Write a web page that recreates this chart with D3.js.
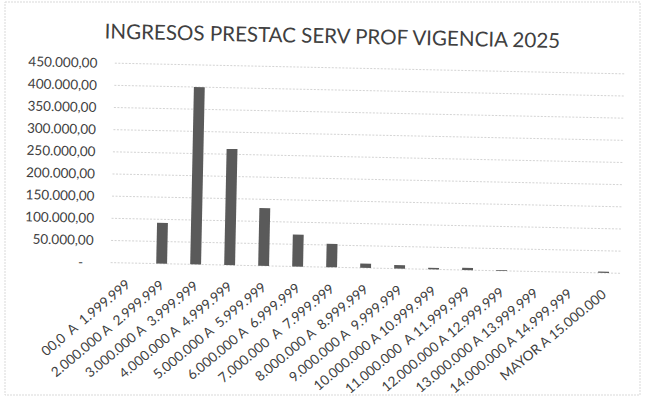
<!DOCTYPE html>
<html>
<head>
<meta charset="utf-8">
<script src="https://cdn.jsdelivr.net/npm/d3@7"></script>
<style>
  body { margin: 0; background: #fff; }
  svg { display: block; }
</style>
</head>
<body>
<svg width="645" height="403"></svg>
<script>
var width = 645;
var height = 403;

// data
var categories = [
    '00,0  A  1.999.999', '2.000.000 A  2.999.999', '3.000.000 A  3.999.999',
    '4.000.000 A  4.999.999', '5.000.000 A  5.999.999', '6.000.000 A  6.999.999',
    '7.000.000  A  7.999.999', '8.000.000 A  8.999.999', '9.000.000 A  9.999.999',
    '10.000.000 A 10.999.999', '11.000.000  A 11.999.999', '12.000.000 A 12.999.999',
    '13.000.000 A 13.999.999', '14.000.000 A 14.999.999', 'MAYOR A 15.000.000'
];
var values = [0, 92000, 400000, 262000, 130000, 72000, 53000, 10000, 8000, 3500, 5000, 1500, 0, 0, 3000];
var yTicks = [0, 50000, 100000, 150000, 200000, 250000, 300000, 350000, 400000, 450000];
var title = 'INGRESOS PRESTAC SERV PROF VIGENCIA 2025';

var plotLeft = 112, plotRight = 622, plotTop = 67.5, plotBottom = 267;

var svg = d3.select('svg');

// outer frame of the chart
svg.append('rect')
    .attr('x', 5).attr('y', 2)
    .attr('width', 635).attr('height', 393)
    .attr('fill', '#fff')
    .attr('stroke', '#d9d9d9')
    .attr('stroke-dasharray', '2,1');

// the photo is slightly tilted
var g = svg.append('g')
    .attr('transform', 'rotate(1.2,320,200)');

var x = d3.scaleBand()
    .domain(categories)
    .range([plotLeft, plotRight]);

var y = d3.scaleLinear()
    .domain([0, 450000])
    .range([plotBottom, plotTop]);

var fmt = function(v) {
    if (v === 0) return '-';
    return d3.format(',.2f')(v).replace(/,/g, '#').replace(/\./g, ',').replace(/#/g, '.');
};

// gridlines
g.append('g')
    .selectAll('line')
    .data(yTicks).enter().append('line')
    .attr('x1', plotLeft).attr('x2', plotRight)
    .attr('y1', function(d) { return y(d); })
    .attr('y2', function(d) { return y(d); })
    .attr('stroke', '#c8c8c8')
    .attr('stroke-width', 0.8)
    .attr('stroke-dasharray', '2,1.5');

// y axis labels
var yAxis = g.append('g')
    .attr('transform', 'translate(' + (plotLeft - 17.5) + ',0)')
    .call(d3.axisLeft(y).tickValues(yTicks).tickSize(0).tickPadding(0).tickFormat(fmt));
yAxis.select('.domain').remove();
yAxis.selectAll('text')
    .attr('font-family', 'Lato, "Open Sans", sans-serif')
    .attr('font-size', '13.5px')
    .attr('fill', '#404040')
    .attr('dx', function(d) { return d === 0 ? -10 : 0; });

// bars
var barW = x.bandwidth() * 0.32;
g.append('g')
    .selectAll('rect')
    .data(values).enter().append('rect')
    .attr('x', function(d, i) { return x(categories[i]) + (x.bandwidth() - barW) / 2; })
    .attr('width', barW)
    .attr('y', function(d) { return y(d); })
    .attr('height', function(d) { return y(0) - y(d); })
    .attr('fill', '#5a5a5a');

// x axis labels
g.append('g')
    .selectAll('text')
    .data(categories).enter().append('text')
    .attr('transform', function(d) {
        return 'translate(' + [x(d) + x.bandwidth() / 2 + 4, plotBottom + 23] + ')rotate(-41)';
    })
    .attr('text-anchor', 'end')
    .attr('font-family', 'Lato, "Open Sans", sans-serif')
    .attr('font-size', '13.6px')
    .attr('fill', '#404040')
    .style('white-space', 'pre')
    .text(function(d) { return d; });

// title
var t = g.append('text')
    .attr('x', 329)
    .attr('y', 43)
    .attr('text-anchor', 'middle')
    .attr('font-family', 'Lato, "Open Sans", sans-serif')
    .attr('font-size', '20px')
    .attr('fill', '#404040')
    .text(title);
var tw = t.node().getComputedTextLength();
t.attr('font-size', (20 * 456 / tw) + 'px');
</script>
</body>
</html>
